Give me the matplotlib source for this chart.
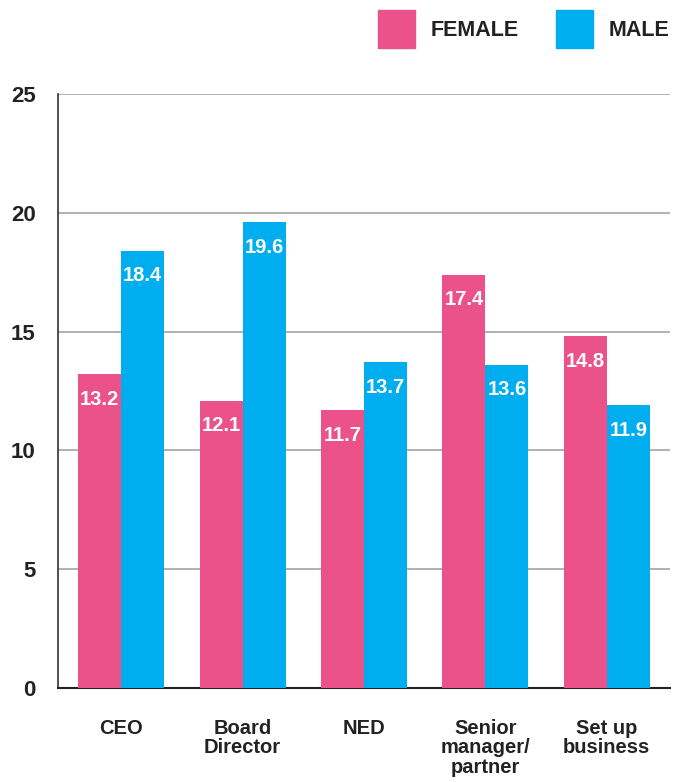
import numpy as np
import matplotlib.pyplot as plt
from matplotlib.patches import Patch

plt.rcParams['font.family'] = ['Liberation Sans', 'DejaVu Sans']
plt.rcParams['font.weight'] = 'bold'

# data
categories = ["CEO", "Board\nDirector", "NED", "Senior\nmanager/\npartner", "Set up\nbusiness"]
female = [13.2, 12.1, 11.7, 17.4, 14.8]
male = [18.4, 19.6, 13.7, 13.6, 11.9]
yticks = [0, 5, 10, 15, 20, 25]

pink = "#EC528A"
blue = "#00AEEF"

fig = plt.figure(figsize=(6.85, 7.82), dpi=100)
ax = fig.add_axes([0.0847, 0.1202, 0.8933, 0.7596])

x = np.arange(len(categories))
w = 0.354
bf = ax.bar(x - w/2, female, w, color=pink, zorder=3)
bm = ax.bar(x + w/2, male, w, color=blue, zorder=3)

# value labels just inside the top of each bar
for bars, vals in [(bf, female), (bm, male)]:
    for b, v in zip(bars, vals):
        ax.annotate(f"{v}", (b.get_x() + b.get_width()/2, v),
                    xytext=(0, -18), textcoords="offset points",
                    ha="center", va="center", color="white",
                    fontsize=14.5, fontweight="bold", zorder=4)

ax.set_xlim(-0.52, 4.52)
ax.set_ylim(0, 25)
ax.set_yticks(yticks)
ax.set_xticks(x)
ax.set_xticklabels(categories, fontsize=14.5, fontweight="bold", linespacing=1.05, va="top")
ax.tick_params(axis="both", length=0)
ax.tick_params(axis="x", pad=22)
ax.tick_params(axis="y", pad=16)
for lab in ax.get_yticklabels():
    lab.set_fontsize(16)
    lab.set_fontweight("bold")
    lab.set_color("#222222")
for lab in ax.get_xticklabels():
    lab.set_color("#222222")

ax.yaxis.grid(True, color="#aaaaaa", linewidth=1.3, zorder=0)
ax.set_axisbelow(True)
for s in ["top", "right"]:
    ax.spines[s].set_visible(False)
ax.spines["left"].set_color("#333333")
ax.spines["left"].set_linewidth(1.2)
ax.spines["bottom"].set_color("#222222")
ax.spines["bottom"].set_linewidth(1.5)

handles = [Patch(color=pink, label="FEMALE"), Patch(color=blue, label="MALE")]
leg = fig.legend(handles=handles, loc="center right", bbox_to_anchor=(0.977, 0.963),
                 ncol=2, frameon=False, fontsize=15.5, handlelength=1.7,
                 handleheight=2.3, handletextpad=0.74, columnspacing=1.72,
                 borderaxespad=0, borderpad=0)
for t in leg.get_texts():
    t.set_fontweight("bold")
    t.set_color("#222222")

plt.savefig("out.png", dpi=100)
